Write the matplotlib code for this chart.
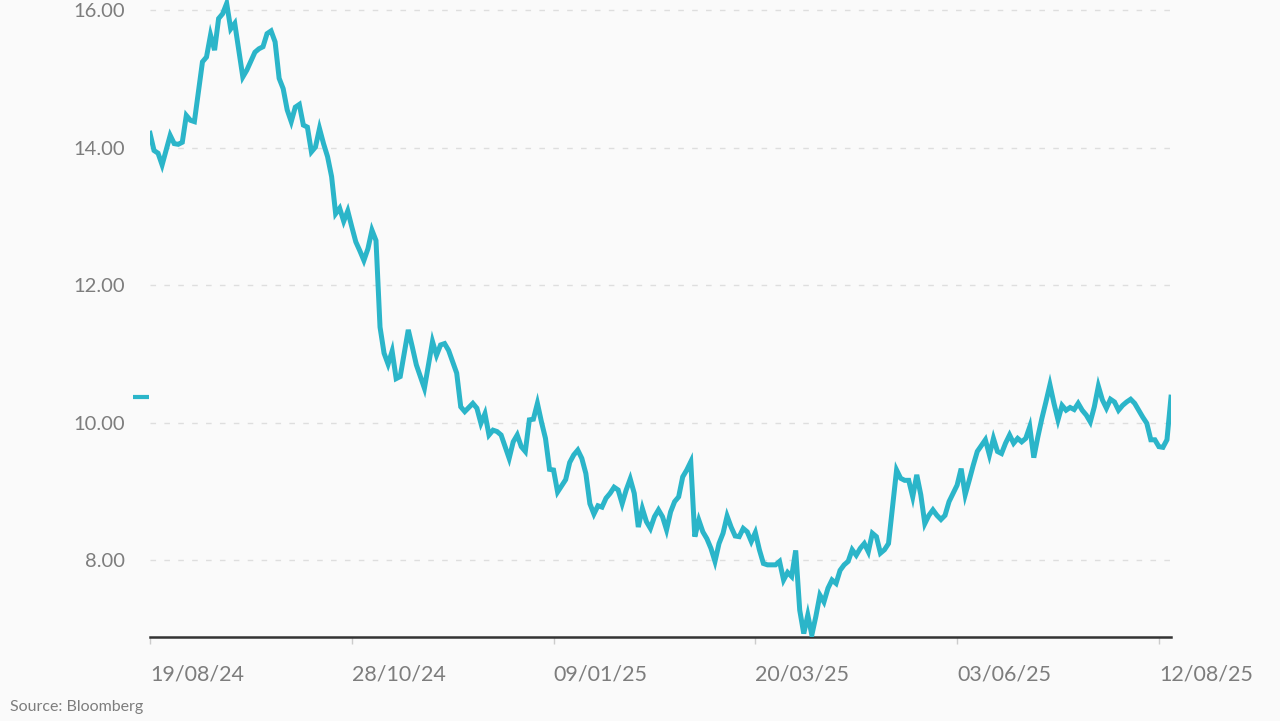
import matplotlib.pyplot as plt
from matplotlib.ticker import FixedLocator, FuncFormatter

# trading-day index (0 = 19/08/24) and price
day_idx = [0, 1, 2, 3, 5, 6, 7, 8, 9, 10, 11, 13, 14, 15, 16, 17, 18, 19, 20, 21,
           23, 24, 26, 27, 28, 29, 30, 31, 32, 33, 34, 35, 36, 37, 38, 39, 40, 41, 42, 43,
           44, 45, 46, 47, 48, 49, 50, 51, 52, 53, 54, 55, 56, 57, 58, 59, 60, 61, 62, 63,
           64, 65, 66, 68, 69, 70, 71, 72, 73, 74, 76, 77, 78, 79, 80, 81, 82, 83, 84, 85,
           86, 87, 89, 90, 91, 92, 93, 94, 95, 96, 97, 98, 99, 100, 101, 102, 103, 104, 105, 106,
           107, 108, 109, 110, 111, 112, 113, 114, 115, 116, 117, 118, 119, 120, 121, 122, 123, 124, 125, 126,
           127, 128, 129, 130, 131, 132, 133, 134, 135, 136, 137, 138, 139, 140, 141, 142, 143, 144, 145, 146,
           147, 148, 149, 150, 151, 152, 153, 154, 155, 156, 157, 158, 159, 160, 161, 162, 163, 164, 165, 166,
           167, 168, 169, 170, 171, 172, 173, 174, 175, 176, 177, 178, 179, 180, 181, 182, 183, 184, 185, 186,
           187, 188, 189, 190, 191, 192, 193, 194, 195, 196, 197, 198, 199, 200, 201, 202, 203, 204, 205, 207,
           208, 209, 210, 211, 212, 213, 214, 215, 216, 217, 218, 219, 220, 221, 222, 223, 224, 225, 226, 227,
           228, 229, 230, 231, 232, 233, 234, 235, 236, 237, 238, 239, 240, 241, 242, 243, 244, 245, 246, 247,
           248, 249, 250, 251, 252, 253]
price = [14.21, 13.96, 13.92, 13.75, 14.18, 14.06, 14.05, 14.08, 14.47, 14.40, 14.38, 15.25, 15.32, 15.64, 15.42, 15.88, 15.95, 16.10, 15.73, 15.81,
         15.03, 15.13, 15.39, 15.44, 15.47, 15.66, 15.70, 15.54, 15.01, 14.86, 14.55, 14.38, 14.59, 14.63, 14.33, 14.30, 13.94, 14.01, 14.28, 14.06,
         13.87, 13.58, 13.04, 13.12, 12.93, 13.08, 12.85, 12.63, 12.50, 12.36, 12.53, 12.80, 12.65, 11.39, 11.01, 10.85, 11.04, 10.64, 10.67, 11.01,
         11.35, 11.10, 10.84, 10.50, 10.84, 11.18, 10.98, 11.13, 11.15, 11.05, 10.72, 10.23, 10.16, 10.22, 10.28, 10.21, 9.99, 10.13, 9.82, 9.89,
         9.87, 9.82, 9.48, 9.72, 9.82, 9.65, 9.58, 10.04, 10.05, 10.28, 10.01, 9.77, 9.32, 9.31, 8.99, 9.08, 9.17, 9.42, 9.53, 9.60,
         9.48, 9.26, 8.82, 8.67, 8.79, 8.77, 8.90, 8.97, 9.06, 9.02, 8.82, 9.02, 9.18, 8.97, 8.48, 8.75, 8.56, 8.46, 8.63, 8.73,
         8.63, 8.44, 8.70, 8.85, 8.92, 9.21, 9.31, 9.43, 8.34, 8.58, 8.41, 8.31, 8.17, 7.98, 8.24, 8.39, 8.64, 8.48, 8.35, 8.34,
         8.46, 8.41, 8.27, 8.40, 8.15, 7.95, 7.93, 7.93, 7.93, 7.98, 7.71, 7.82, 7.76, 8.14, 7.27, 6.93, 7.20, 6.91, 7.18, 7.49,
         7.39, 7.59, 7.71, 7.66, 7.85, 7.93, 7.98, 8.15, 8.07, 8.17, 8.24, 8.12, 8.39, 8.34, 8.10, 8.15, 8.24, 8.78, 9.31, 9.19,
         9.16, 9.16, 8.92, 9.24, 8.95, 8.53, 8.65, 8.73, 8.65, 8.59, 8.65, 8.85, 8.97, 9.09, 9.33, 8.95, 9.16, 9.38, 9.58, 9.75,
         9.53, 9.77, 9.58, 9.55, 9.70, 9.82, 9.70, 9.77, 9.72, 9.77, 9.94, 9.49, 9.79, 10.06, 10.30, 10.55, 10.28, 10.04, 10.25, 10.18,
         10.22, 10.19, 10.28, 10.18, 10.11, 10.01, 10.23, 10.53, 10.33, 10.21, 10.34, 10.30, 10.18, 10.25, 10.30, 10.34, 10.28, 10.18, 10.08, 9.99,
         9.75, 9.75, 9.65, 9.64, 9.75, 10.37]

tick_pos = [0, 50, 100, 150, 200, 250]
tick_labels = ['19/08/24', '28/10/24', '09/01/25', '20/03/25', '03/06/25', '12/08/25']
y_ticks = [8, 10, 12, 14, 16]

line_color = '#2bb5c9'
text_color = '#7d7d7d'
bg = '#fafafa'

plt.rcParams['font.family'] = ['Lato', 'DejaVu Sans']

fig = plt.figure(figsize=(12.8, 7.21), dpi=100, facecolor=bg)
ax = fig.add_axes([150 / 1280, 1 - 637 / 721, 1021 / 1280, 637 / 721])
ax.set_facecolor(bg)

ax.plot(day_idx, price, color=line_color, linewidth=3.6, solid_joinstyle='miter', zorder=3)

# last value marker on the y axis
ax.plot([-0.017, -0.001], [price[-1], price[-1]], color=line_color, linewidth=3,
        transform=ax.get_yaxis_transform(), clip_on=False, solid_capstyle='butt')

ax.set_xlim(0, 253)
ax.set_ylim(6.88, 16.15)

ax.yaxis.set_major_locator(FixedLocator(y_ticks))
ax.yaxis.set_major_formatter(FuncFormatter(lambda v, p: f'{v:.2f}'))
ax.set_xticks(tick_pos)
ax.set_xticklabels(tick_labels)

ax.grid(axis='y', color='#dedede', linestyle=(0, (4, 6)), linewidth=1)
ax.set_axisbelow(True)

for s in ['top', 'right', 'left']:
    ax.spines[s].set_visible(False)
ax.spines['bottom'].set_color('#333333')
ax.spines['bottom'].set_linewidth(1.8)

ax.tick_params(axis='y', length=0, pad=18, labelsize=14.5, labelcolor=text_color)
ax.tick_params(axis='x', length=5, width=1, color='#cccccc', pad=15, labelsize=15.5,
               labelcolor=text_color)
for lbl in ax.get_xticklabels():
    lbl.set_horizontalalignment('left')

fig.text(10 / 1280, 1 - 707 / 721, 'Source: Bloomberg', fontsize=11.5, color=text_color,
         va='center', ha='left')

fig.savefig('out.png', dpi=100, facecolor=bg)
